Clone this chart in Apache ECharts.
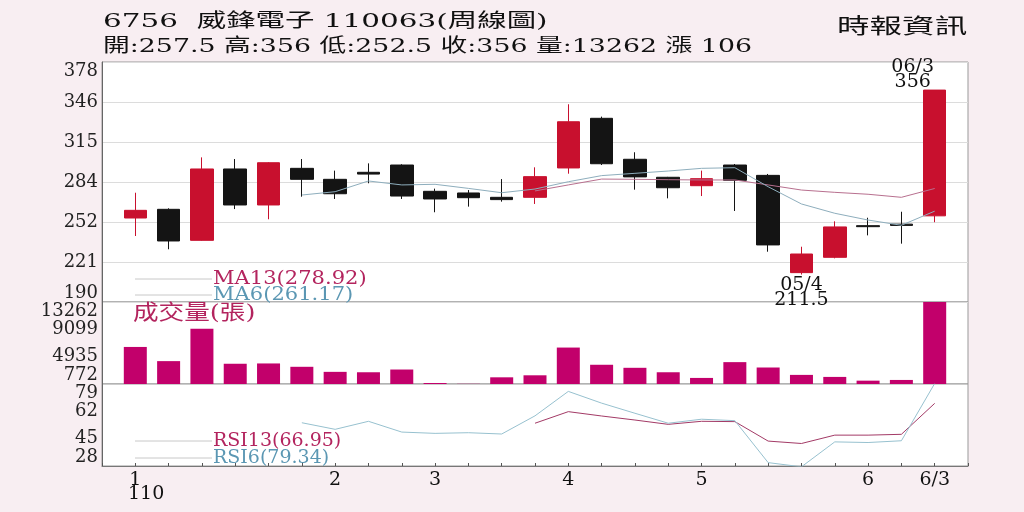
<!DOCTYPE html>
<html><head><meta charset="utf-8">
<script src="https://cdn.jsdelivr.net/npm/echarts@6/dist/echarts.min.js"></script>
<style>html,body{margin:0;padding:0;background:#fff;}#c{width:1024px;height:512px;}</style>
</head><body><div id="c"></div>
<script>
// ---- data ----
const weekLabels = ['1','','','','','','2','','','3','','','','4','','','','5','','','','','6','','6/3'];
const opens  = [255.8,262.6,238.3,294.2,266.0,294.7,286.1,291.6,297.3,276.7,275.4,272.0,272.0,295.0,333.9,301.8,287.7,281.1,297.3,289.2,213.0,225.0,249.8,251.0,257.5];
const closes = [261.8,237.8,294.2,266.0,299.1,286.1,274.8,290.2,273.0,270.7,271.7,270.2,288.2,331.2,298.3,288.0,279.5,286.6,285.3,234.7,227.6,248.8,249.0,250.0,356.0];
const lows   = [241.7,231.3,238.0,262.8,254.8,272.5,270.7,283.0,270.7,260.3,264.7,268.6,266.8,290.5,297.3,278.0,271.2,273.0,261.3,229.4,211.5,224.2,242.2,235.7,252.5];
const highs  = [275.6,263.4,303.3,302.0,299.5,302.0,292.9,298.6,297.9,278.8,277.7,286.3,295.5,344.9,335.2,307.3,288.0,292.9,298.1,290.3,233.3,253.2,256.0,260.7,356.0];
const volumes = [6416,4257,9191,3856,3902,3393,2622,2561,2977,926,800,1790,2098,6323,3702,3239,2561,1697,4103,3285,2160,1851,1281,1389,13262];
const ma6  = [null,null,null,null,null,273.8,276.4,284.8,281.7,282.2,279.0,275.6,278.5,284.2,289.0,290.8,292.6,294.7,295.2,280.3,266.8,259.5,254.2,250.1,261.17];
const ma13 = [null,null,null,null,null,null,null,null,null,null,null,null,277.0,281.7,286.3,286.1,285.8,285.6,285.6,281.7,277.7,275.9,274.4,272.0,278.92];
const rsi6 = [null,null,null,null,null,54.9,50.8,55.8,49.1,48.3,48.7,47.9,59.2,74.4,67.1,60.8,54.6,57.1,56.2,30.1,27.5,43.0,42.6,43.7,79.34];
const rsi13 = [null,null,null,null,null,null,null,null,null,null,null,null,54.6,61.8,59.1,56.6,53.9,55.8,55.6,43.5,42.0,47.2,47.2,47.7,66.95];
const priceTicks = ['190','221','252','284','315','346','378'];
const volumeTicks = ['772','4935','9099','13262'];
const rsiTicks = ['28','45','62','79'];
const yearLabel = '110';
const lowLabel = '05/4';
const highLabel = '06/3';

// ---- build ----
const SERIF = '"DejaVu Serif","Noto Sans CJK TC",serif';
const n = opens.length;
const last = n - 1;
const pairs = arr => arr.map((v, i) => v == null ? null : [i, v]).filter(Boolean);
const lowIdx = lows.indexOf(Math.min(...lows));
const fmt = v => String(+v.toFixed(2));

const EPS = 1e-7;
const pMin = 190, pMax = 378, pStep = (pMax - pMin) / (priceTicks.length - 1);
const vMin = 772, vMax = 13262, vStep = (vMax - vMin) / (volumeTicks.length - 1);
const rMin = 28, rMax = 79, rStep = (rMax - rMin) / (rsiTicks.length - 1);

const RED = '#c8102e', BLK = '#141414', VOL = '#c2006b';
const MA13C = '#b8708f', MA6C = '#8eaebd', RSI13C = '#a33a66', RSI6C = '#97c1cf';
const TXT13 = '#b3245e', TXT6 = '#5b97b3';

const xBase = {type: 'value', min: -1, max: n, interval: 1, axisLine: {show: false}, axisTick: {show: false}, axisLabel: {show: false}, splitLine: {show: false}};
const yLab = (ticks, min, step) => ({
  color: '#222', fontFamily: SERIF, fontSize: 18, margin: 4,
  showMinLabel: true, showMaxLabel: true,
  verticalAlignMinLabel: 'bottom', verticalAlignMaxLabel: 'top',
  formatter: v => ticks[Math.round((v - min) / step)] || ''
});
const yBase = (idx, min, max, step, ticks, split) => ({
  gridIndex: idx, type: 'value', min: min, max: max, interval: step * (1 + EPS),
  axisLine: {show: true, onZero: false, lineStyle: {color: '#666'}}, axisTick: {show: false},
  splitLine: {show: split, lineStyle: {color: '#dcdcdc'}},
  axisLabel: yLab(ticks, min, step)
});

const grids = [
  {left: 102, right: 56, top: 62, height: 240},
  {left: 102, right: 56, top: 302, height: 82},
  {left: 102, right: 56, top: 384, height: 82}
].map(g => Object.assign(g, {show: true, backgroundColor: '#fff', borderColor: '#999', borderWidth: 1}));

const title1 = '6756  威鋒電子 110063(周線圖)';
const chg = closes[last] - closes[last - 1];
const title2 = '開:' + opens[last] + ' 高:' + highs[last] + ' 低:' + lows[last] + ' 收:' + closes[last] + ' 量:' + volumes[last] + ' 漲 ' + fmt(chg);

function txt(x, y, text, color, size, sx, z) {
  return {type: 'text', x: x, y: y, scaleX: sx, z: z || 50,
    style: {text: text, fill: color, font: size + 'px ' + SERIF, textVerticalAlign: 'middle', textAlign: 'left'}};
}
function legendItem(y, text, color, size, sx) {
  return [
    {type: 'line', shape: {x1: 135, y1: y, x2: 212, y2: y}, style: {stroke: '#c8c8c8', lineWidth: 1}, z: 50},
    txt(213, y, text, color, size, sx)
  ];
}

const option = {
  backgroundColor: '#f8eef2',
  animation: false,
  grid: grids,
  xAxis: [
    Object.assign({}, xBase, {gridIndex: 0}),
    Object.assign({}, xBase, {gridIndex: 1}),
    Object.assign({}, xBase, {gridIndex: 2,
      axisLine: {show: true, onZero: false, lineStyle: {color: '#777'}},
      axisTick: {show: true, inside: true, length: 3, lineStyle: {color: '#555'}},
      axisLabel: {show: true, color: '#111', fontFamily: SERIF, fontSize: 19, margin: 5,
        formatter: v => weekLabels[v] || ''}})
  ],
  yAxis: [
    yBase(0, pMin, pMax, pStep, priceTicks, true),
    yBase(1, vMin, vMax, vStep, volumeTicks, false),
    yBase(2, rMin, rMax, rStep, rsiTicks, false)
  ],
  series: [
    {type: 'candlestick', xAxisIndex: 0, yAxisIndex: 0, barWidth: 23,
      encode: {x: 0, y: [1, 2, 3, 4]},
      data: opens.map((o, i) => [i, o, closes[i], lows[i], highs[i]]),
      itemStyle: {color: RED, color0: BLK, borderColor: RED, borderColor0: BLK, borderWidth: 1},
      markPoint: {symbol: 'circle', symbolSize: 0, silent: true,
        label: {color: '#111', fontFamily: SERIF, fontSize: 19, lineHeight: 15},
        data: [
          {coord: [last, highs[last]], value: highs[last],
            label: {position: 'top', distance: 1, offset: [-22, 0], formatter: highLabel + '\n' + highs[last]}},
          {coord: [lowIdx, lows[lowIdx]], value: lows[lowIdx],
            label: {position: 'bottom', distance: 3, formatter: lowLabel + '\n' + lows[lowIdx]}}
        ]}},
    {type: 'line', xAxisIndex: 0, yAxisIndex: 0, data: pairs(ma13), symbol: 'none', lineStyle: {color: MA13C, width: 1}, z: 3},
    {type: 'line', xAxisIndex: 0, yAxisIndex: 0, data: pairs(ma6), symbol: 'none', lineStyle: {color: MA6C, width: 1}, z: 3},
    {type: 'bar', xAxisIndex: 1, yAxisIndex: 1, barWidth: 23, data: pairs(volumes), itemStyle: {color: VOL}},
    {type: 'line', xAxisIndex: 2, yAxisIndex: 2, data: pairs(rsi13), symbol: 'none', lineStyle: {color: RSI13C, width: 1}},
    {type: 'line', xAxisIndex: 2, yAxisIndex: 2, data: pairs(rsi6), symbol: 'none', lineStyle: {color: RSI6C, width: 1}}
  ],
  graphic: [
    txt(103, 22, title1, '#111', 19, 1.55),
    txt(103, 47, title2, '#111', 19, 1.41),
    txt(837, 28, '時報資訊', '#111', 21, 1.55),
    {type: 'text', x: 128, y: 485, z: 50, style: {text: yearLabel, fill: '#111', font: '19px ' + SERIF}},
    txt(133, 314, '成交量(張)', TXT13, 21, 1.22),
    ...legendItem(279, 'MA13(' + fmt(ma13[last]) + ')', TXT13, 18, 1.17),
    ...legendItem(295, 'MA6(' + fmt(ma6[last]) + ')', TXT6, 18, 1.17),
    ...legendItem(441, 'RSI13(' + fmt(rsi13[last]) + ')', TXT13, 19, 1.0),
    ...legendItem(458, 'RSI6(' + fmt(rsi6[last]) + ')', TXT6, 19, 1.0)
  ]
};
echarts.init(document.getElementById('c')).setOption(option);
</script>
</body></html>
